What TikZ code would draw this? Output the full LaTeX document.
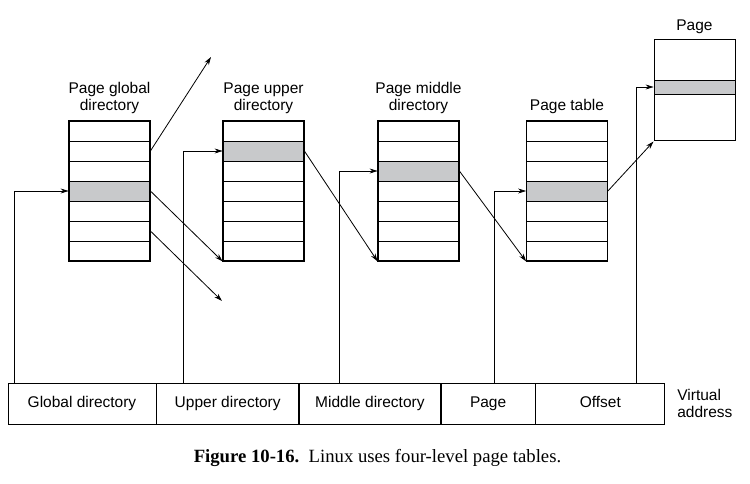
\documentclass[tikz,border=0pt]{standalone}
\usepackage{fontspec}
\setmainfont{Liberation Serif}
\setsansfont{Liberation Sans}
\usetikzlibrary{arrows.meta,positioning}
\definecolor{entrygray}{RGB}{200,201,203}
\tikzset{
	entry/.style={draw, line width=0.8pt, minimum width=81pt, minimum height=20pt, inner sep=0pt},
	frame/.style={draw, line width=1.4pt, minimum width=81pt, minimum height=140pt, inner sep=0pt},
	field/.style={draw, line width=0.7pt, minimum height=41pt, inner sep=0pt, text height=11pt, text depth=3pt, font=\sffamily\fontsize{15.5}{17}\selectfont},
	lbl/.style={align=center, inner sep=0pt, font=\sffamily\fontsize{15.5}{17}\selectfont},
	ptr/.style={line width=0.8pt, -{Stealth[length=8pt,width=5pt]}}
}
\begin{document}
\begin{tikzpicture}[x=1pt, y=-1pt]
	\useasboundingbox (0,0) rectangle (750,484);
	\foreach \n/\x/\s in {pgd/109.5/4, pud/263.5/2, pmd/418.5/3, pte/567/4}
	{
		\foreach \i in {1,...,7}
		{
			\ifnum\i=\s
				\node[entry, fill=entrygray] (\n\i) at (\x, 111+20*\i) {};
			\else
				\node[entry] (\n\i) at (\x, 111+20*\i) {};
			\fi
		}
		\node[frame] (\n) at (\x, 191) {};
	}
	\node[entry, fill=entrygray, minimum height=14pt] (word) at (694.5, 87) {};
	\node[frame, line width=1pt, minimum height=101pt] (page) at (694.5, 90.5) {};

	\node[lbl, above=6pt of pgd] {Page global\\directory};
	\node[lbl, above=6pt of pud] {Page upper\\directory};
	\node[lbl, above=6pt of pmd] {Page middle\\directory};
	\node[lbl, above=6pt of pte] {Page table};
	\node[lbl, above=6pt of page] {Page};

	\node[field, minimum width=148pt] (gd) at (82, 403.5) {Global directory};
	\node[field, minimum width=142pt, right=0pt of gd] (ud) {Upper directory};
	\node[field, minimum width=141pt, right=0pt of ud] (md) {Middle directory};
	\node[field, minimum width=94pt, right=0pt of md] (pg) {Page};
	\node[field, minimum width=129pt, right=0pt of pg] (off) {Offset};
	\node[lbl, align=left, right=12pt of off] (va) {Virtual\\address};

	\draw[ptr] ([xshift=7pt]gd.north west) |- (pgd4.west);
	\draw[ptr] ([xshift=27pt]ud.north west) |- (pud2.west);
	\draw[ptr] ([xshift=40pt]md.north west) |- (pmd3.west);
	\draw[ptr] ([xshift=54pt]pg.north west) |- (pte4.west);
	\draw[ptr] ([xshift=101pt]off.north west) |- (word.west);

	\coordinate (up) at (211, 57);
	\coordinate (down) at (222, 301);
	\draw[ptr] (pgd2.east) -- (up);
	\draw[ptr] (pgd4.east) -- (pud7.south west);
	\draw[ptr] (pgd6.east) -- (down);
	\draw[ptr] (pud2.east) -- (pmd7.south west);
	\draw[ptr] (pmd3.east) -- (pte7.south west);
	\draw[ptr] (pte4.east) -- (page.south west);

	\node[anchor=base, inner sep=0pt, font=\fontsize{18.7}{20}\selectfont] (cap) at (377.5, 462) {\textbf{Figure 10-16.}\ \ Linux uses four-level page tables.};
\end{tikzpicture}
\end{document}
